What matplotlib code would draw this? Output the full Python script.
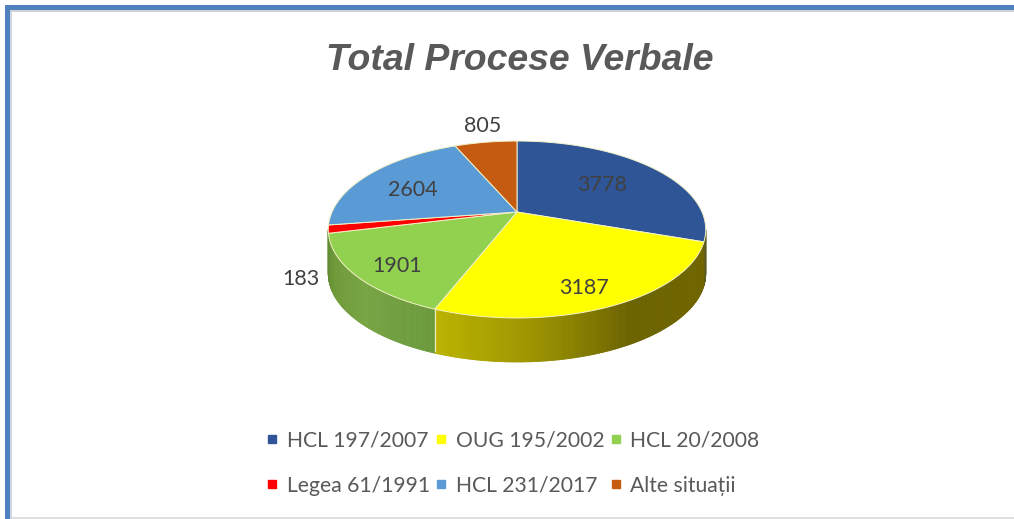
import numpy as np
import matplotlib
matplotlib.use("Agg")
import matplotlib.pyplot as plt
from matplotlib.collections import PolyCollection
from matplotlib.lines import Line2D
from matplotlib.colors import to_rgb

categories = ["HCL 197/2007", "OUG 195/2002", "HCL 20/2008", "Legea 61/1991", "HCL 231/2017", "Alte situații"]
values = [3778, 3187, 1901, 183, 2604, 805]
colors = ["#2F5597", "#FFFF00", "#92D050", "#FF0000", "#5B9BD5", "#C55A11"]
title = "Total Procese Verbale"

# layout (pixels)
label_xy = [(602, 185), (584, 288), (397, 266), (301, 279), (413, 190), (483, 126)]
CX, CY, R, DEPTH, PERSP, A = 517, 212, 185, 44, -0.1977, 43.1

fig = plt.figure(figsize=(10.14, 5.19), dpi=100)
ax = fig.add_axes([0, 0, 1, 1])
ax.set_xlim(0, 1014)
ax.set_ylim(519, 0)
ax.axis("off")


def rim(theta_deg):
    """Perspective projection of a circle point; theta clockwise from 12 o'clock."""
    t = np.radians(theta_deg)
    u, v = np.sin(t), -np.cos(t)
    d = 1 + PERSP * v
    return CX + R * u / d, (A * v + CY) / d


# frame
ax.fill([5, 1014, 1014, 5], [5, 5, 10, 10], color="#4F81BD", lw=0)
ax.fill([5, 10, 10, 5], [5, 5, 519, 519], color="#4F81BD", lw=0)
ax.fill([10, 1014, 1014, 10], [10, 10, 12, 12], color="#CFD3D8", lw=0)
ax.fill([10, 12, 12, 10], [10, 10, 519, 519], color="#CFD6E2", lw=0)
ax.plot([12, 1014], [518.2, 518.2], color="#D9D9D9", lw=1.2, solid_capstyle="butt")

fractions = np.array(values) / sum(values)
edges = np.concatenate([[0], np.cumsum(fractions)]) * 360

# side wall: shade stops along the rim angle (style only)
shade_yellow = {100: "#6E6500", 125: "#6F6600", 150: "#6B6300", 175: "#9A9200", 201: "#BCB400"}
shade_green = {201: "#6A9A3C", 225: "#78A544", 245: "#6F9A3A", 262: "#5F8A30"}


def side_color(th, idx):
    if idx == 1:
        s = shade_yellow
    elif idx == 2:
        s = shade_green
    elif idx == 0:
        return to_rgb("#5A5A20")
    else:
        return to_rgb("#5F8A30")
    k = sorted(s)
    c = np.array([to_rgb(s[i]) for i in k])
    return tuple(np.interp(th, k, c[:, j]) for j in range(3))


polys, fc = [], []
for i in range(len(values)):
    lo, hi = max(edges[i], 101.4), min(edges[i + 1], 258.6)
    if hi <= lo:
        continue
    ts = np.arange(lo, hi + 0.5, 0.5)
    ts[-1] = hi
    for a, b in zip(ts[:-1], ts[1:]):
        xa, ya = rim(a)
        xb, yb = rim(b)
        polys.append([(xa, ya), (xb, yb), (xb, yb + DEPTH), (xa, ya + DEPTH)])
        fc.append(side_color((a + b) / 2, i))
ax.add_collection(PolyCollection(polys, facecolors=fc, edgecolors=fc, linewidths=0.6, zorder=2))

# seam on the front wall between yellow and green
xs, ys = rim(edges[2])
ax.plot([xs, xs], [ys, ys + DEPTH - 2], color="#E8E8B0", lw=1, zorder=3)

# top face
for i, col in enumerate(colors):
    ts = np.linspace(edges[i], edges[i + 1], 120)
    x, y = rim(ts)
    ax.fill(np.r_[CX, x], np.r_[CY, y], facecolor=col, edgecolor="#F2F2C8", lw=0.7, zorder=4,
            joinstyle="round")

# labels
for v, (lx, ly) in zip(values, label_xy):
    ax.text(lx, ly, str(v), ha="center", va="center", color="#404040", fontsize=15.5,
            family="Lato", zorder=6)

ax.text(520, 61, title, ha="center", va="center", color="#595959", fontsize=26.9,
        family="Liberation Sans", weight="bold", style="italic")

# legend (column-first order gives the reference's rows)
handles = [Line2D([], [], ls="none", marker="s", ms=5.5, color=c) for c in colors]
order = [0, 3, 1, 4, 2, 5]
leg = ax.legend([handles[i] for i in order], [categories[i] for i in order], ncols=3,
                loc="center", bbox_to_anchor=(510 / 1014, 1 - 463 / 519), frameon=False,
                prop={"family": "Lato", "size": 15.2}, labelcolor="#595959",
                labelspacing=1.2, columnspacing=0.0, handletextpad=0.13, handlelength=1.1,
                borderpad=0)

fig.savefig("out.png", dpi=100)
